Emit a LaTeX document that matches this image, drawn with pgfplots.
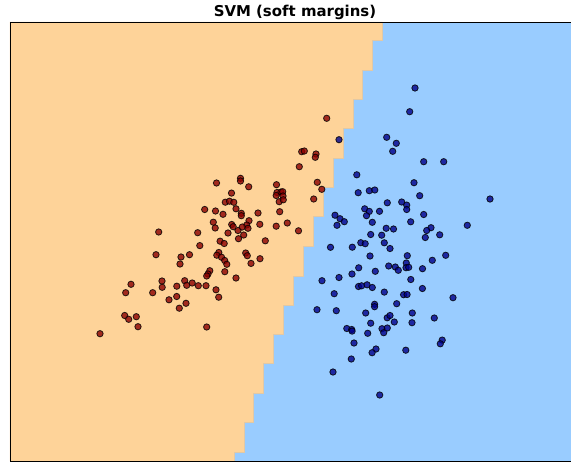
\documentclass[border=0pt]{standalone}
\usepackage{pgfplots}
\pgfplotsset{compat=1.18}
\usepackage{fontspec}
\setmainfont{DejaVu Sans}
\definecolor{bgblue}{RGB}{153,204,255}
\definecolor{bgorange}{RGB}{254,211,153}
\definecolor{edgetan}{RGB}{225,200,165}
\definecolor{ptred}{RGB}{139,0,0}
\definecolor{ptblue}{RGB}{0,0,139}
\begin{document}
\begin{tikzpicture}
\begin{axis}[
  scale only axis, width=570bp, height=439bp,
  xmin=10, xmax=580, ymin=22, ymax=461, y dir=reverse,
  xtick=\empty, ytick=\empty,
  axis on top,
  axis line style={black, line width=0.8bp},
  axis background/.style={fill=bgblue},
  title={SVM (soft margins)},
  every axis title/.style={at={(0.5,1)}, anchor=base, yshift=5bp, font=\fontsize{15}{18}\selectfont\bfseries},
]
\addplot[fill=bgorange, draw=edgetan, line width=0.6bp] coordinates {
(10,22) (382.7,22) (382.7,40.7) (372.7,40.7) (372.7,70.3) (362.7,70.3) (362.7,99.3)
(353.3,99.3) (353.3,128.7) (343.3,128.7) (343.3,158) (333.3,158) (333.3,187.7)
(323.3,187.7) (323.3,216.7) (313.3,216.7) (313.3,246.7) (303.3,246.7) (303.3,276)
(293.3,276) (293.3,305) (283.3,305) (283.3,334.3) (273.3,334.3) (273.3,363.3)
(263.3,363.3) (263.3,393.3) (253.3,393.3) (253.3,422.7) (244,422.7) (244,452)
(234,452) (234,461) (10,461)} -- cycle;
% class 0 (red)
\addplot[only marks, mark=*, mark size=3.2pt, opacity=0.8,
  mark options={fill=ptred, draw=black, line width=0.8bp}] coordinates {
(100,333.7) (124.7,315.5) (128.7,319.3) (136.3,316.7) (138,326.7) (125.7,292.7)
(131,284.3) (152.7,292.7) (156,254.7) (158.7,232) (162,281) (162.2,287.3)
(169,299.8) (176.7,296.5) (179.3,308.2) (186,303.3) (176.8,286.2) (184.7,280.7)
(186.7,285.3) (192.2,283) (198.3,285.7) (206,285.7) (181,257) (180,264)
(189.5,254.7) (199.8,245.6) (197.7,232.7) (206.7,327) (216,289.8) (218.7,297.2)
(209.8,270.7) (208,274) (206.7,276) (218.8,252.5) (216.8,255.2) (221.5,257.2)
(224.7,260.5) (226.8,264.3) (224.8,271.7) (236,278) (220.1,241.2) (224.2,243.5)
(238.5,238.7) (228,233) (238,230.5) (231.7,224.5) (233.2,226.7) (213.3,222.2)
(215.2,228) (204.7,209.5) (215.5,211) (223,214.3) (236,208.8) (225.3,202.2)
(229.5,201.2) (233.8,202.3) (231.5,193.1) (216.5,183) (240.5,178.3) (240.5,181)
(248.7,186.8) (241.3,213.3) (241.3,215.7) (243.7,235) (249,220.7) (246.7,225)
(242.3,227) (248,228.3) (258,213) (259.8,224.3) (265.3,240.8) (245.7,253)
(247.3,255.7) (251,263.4) (260,258.7) (276.5,184.7) (277,192.5) (281,192)
(282.7,191.7) (276.2,195.5) (283,196) (279.2,201.7) (283.3,199.8) (279.7,211.7)
(276.2,226.2) (287.3,223) (298.5,230.8) (299.3,166.7) (301.7,151.7) (304.3,151)
(316,154) (315.3,157.3) (317.3,182.3) (321.8,189.3) (313.7,199) (326.7,118.3)
};
% class 1 (blue)
\addplot[only marks, mark=*, mark size=3.2pt, opacity=0.8,
  mark options={fill=ptblue, draw=black, line width=0.8bp}] coordinates {
(415,88) (409.7,111.7) (339,139.7) (386.7,137.3) (396.3,143.3) (392.7,151.3)
(423.7,161.7) (443.7,161.7) (356.8,174.8) (414,182.7) (358.2,192.7) (369.3,190.7)
(374.8,190) (419.7,195.7) (387.3,202.8) (401.7,202) (406.7,205.1) (406.7,209.5)
(490,199) (364.7,208.8) (369.3,211.4) (366.5,215.7) (379.5,211.3) (335,215.2)
(340,218.7) (344.3,221.7) (337,225.3) (372.3,222.3) (423.7,214.5) (410.7,221.8)
(467.3,225.3) (386.2,228.3) (393.5,229) (431,227.7) (426.7,230.5) (425.3,237.5)
(439.7,234.8) (370.7,234.5) (381.7,235.2) (360.8,242.7) (365.2,243.7) (384.3,242.8)
(390,248.5) (330.5,247.3) (352.3,247.2) (370,256) (407.3,255.7) (445.7,255.3)
(432.3,260.3) (406.3,263) (406,267.7) (408.7,267.3) (395.3,267) (398.3,270.3)
(388.7,266) (358.7,267.8) (375.3,271.3) (422.5,268.7) (352,274) (339,277.5)
(322,280.7) (410.8,279.5) (358.5,286.5) (361.6,285.8) (367.1,284.8) (372.3,287.5)
(384.3,292.1) (403.6,294.7) (407.1,294.5) (422.4,288.5) (334.2,293.7) (453,297.7)
(317,309.7) (336.3,310.7) (374.6,304.3) (374.6,306.7) (396.7,303.7) (365.7,313)
(412.3,313) (387.2,317.8) (390,315.5) (394.3,322) (370.7,323.2) (412,322.7)
(434.3,318) (346.8,328.5) (351.7,329.5) (352.1,331.1) (382,328.7) (387.3,328)
(383.7,332.7) (367.7,333.3) (354,343) (376,349) (372.1,352.7) (405.8,350.2)
(442.2,340.1) (440.3,343.8) (351.3,359) (333,372) (379.7,395)
};
\coordinate (sw) at (axis cs:10,461);
\end{axis}
\pgfresetboundingbox
\path[use as bounding box] ([shift={(-10bp,-2bp)}]sw) rectangle ++(571bp,463bp);
\end{tikzpicture}
\end{document}
